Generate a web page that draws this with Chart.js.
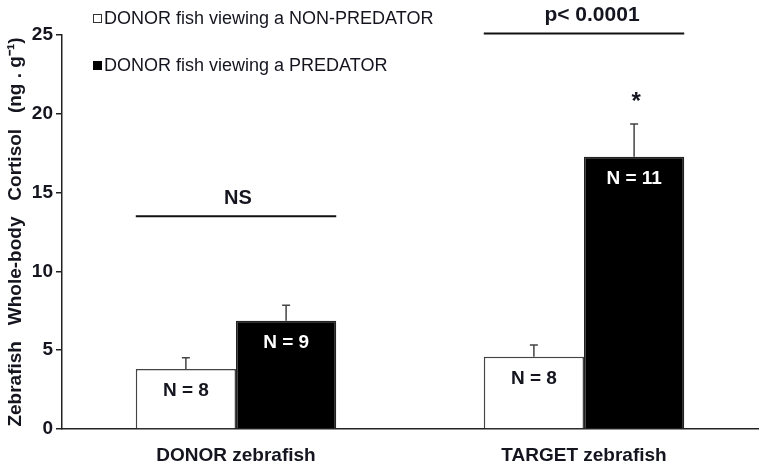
<!DOCTYPE html>
<html><head><meta charset="utf-8">
<script src="https://cdn.jsdelivr.net/npm/chart.js@4.4.1/dist/chart.umd.min.js"></script>
<style>html,body{margin:0;padding:0;background:#fff}#wrap{width:768px;height:467px}</style>
</head><body>
<div id="wrap"><canvas id="c" width="768" height="467"></canvas></div>
<script>
const categories = ['DONOR zebrafish', 'TARGET zebrafish'];
const seriesLabels = ['DONOR fish viewing a NON-PREDATOR', 'DONOR fish viewing a PREDATOR'];
const nonPredatorMeans = [3.8, 4.59];
const predatorMeans = [6.87, 17.28];
const nonPredatorErr = [0.72, 0.74];
const predatorErr = [0.98, 2.07];
const nonPredatorN = ['N = 8', 'N = 8'];
const predatorN = ['N = 9', 'N = 11'];
const yTicks = [0, 5, 10, 15, 20, 25];
const comparisonLabels = ['NS', 'p< 0.0001'];
const comparisonLevels = [13.5, 25.1];
const significanceMarks = ['', '*'];
const yTitle = 'Zebrafish   Whole-body   Cortisol   (ng . g\u207B\u00B9)';

const FONT = "'Liberation Sans', Arial, sans-serif";
const TXT = '#15151f';
const errors = [nonPredatorErr, predatorErr];
const nLabels = [nonPredatorN, predatorN];

const overlay = {
  id: 'overlay',
  afterDraw(chart) {
    const ctx = chart.ctx;
    const ys = chart.scales.y;
    const area = chart.chartArea;
    ctx.save();
    chart.data.datasets.forEach((ds, i) => {
      const meta = chart.getDatasetMeta(i);
      meta.data.forEach((el, j) => {
        const top = ys.getPixelForValue(ds.data[j] + errors[i][j]);
        ctx.strokeStyle = '#444';
        ctx.lineWidth = 1.5;
        ctx.beginPath();
        ctx.moveTo(el.x, el.y);
        ctx.lineTo(el.x, top);
        ctx.moveTo(el.x - 4, top);
        ctx.lineTo(el.x + 4, top);
        ctx.stroke();
        ctx.font = 'bold 19px ' + FONT;
        ctx.fillStyle = i === 1 ? '#ffffff' : TXT;
        ctx.textAlign = 'center';
        ctx.textBaseline = 'middle';
        ctx.fillText(nLabels[i][j], el.x, el.y + 22);
      });
    });
    const m0 = chart.getDatasetMeta(0), m1 = chart.getDatasetMeta(1);
    categories.forEach((c, j) => {
      const a = m0.data[j], b = m1.data[j];
      const left = a.x - a.width / 2, right = b.x + b.width / 2;
      const yl = ys.getPixelForValue(comparisonLevels[j]);
      ctx.strokeStyle = '#111';
      ctx.lineWidth = 2;
      ctx.beginPath();
      ctx.moveTo(left, yl);
      ctx.lineTo(right, yl);
      ctx.stroke();
      ctx.fillStyle = TXT;
      ctx.font = 'bold ' + (j === 1 ? 21 : 20) + 'px ' + FONT;
      ctx.textAlign = 'center';
      ctx.textBaseline = 'middle';
      ctx.fillText(comparisonLabels[j], (left + right) / 2 + (j === 1 ? 8 : 2), yl - 18);
      if (significanceMarks[j]) {
        const topErr = ys.getPixelForValue(predatorMeans[j] + predatorErr[j]);
        ctx.font = 'bold 24px ' + FONT;
        ctx.fillText(significanceMarks[j], b.x + 2, topErr - 22);
      }
    });
    const lx = area.left + 31;
    const rows = [18, 65];
    chart.data.datasets.forEach((ds, i) => {
      const cy = rows[i];
      ctx.lineWidth = 1;
      if (i === 0) {
        ctx.fillStyle = '#fff';
        ctx.strokeStyle = '#333';
        ctx.fillRect(lx, cy - 4, 8, 8);
        ctx.strokeRect(lx + 0.5, cy - 3.5, 8, 8);
      } else {
        ctx.fillStyle = '#000';
        ctx.fillRect(lx, cy - 4, 9, 9);
      }
      ctx.fillStyle = TXT;
      ctx.font = '18px ' + FONT;
      ctx.textAlign = 'left';
      ctx.textBaseline = 'middle';
      ctx.fillText(ds.label, lx + 11, cy + 1);
    });
    ctx.restore();
  }
};

new Chart(document.getElementById('c'), {
  type: 'bar',
  data: {
    labels: categories,
    datasets: [
      { label: seriesLabels[0], data: nonPredatorMeans, backgroundColor: '#ffffff', borderColor: '#444', borderWidth: 1.5 },
      { label: seriesLabels[1], data: predatorMeans, backgroundColor: '#000000', borderColor: '#222', borderWidth: 1.5 }
    ]
  },
  options: {
    responsive: false,
    animation: false,
    events: [],
    layout: { padding: { top: 35, right: 10, left: 0, bottom: 0 } },
    datasets: { bar: { categoryPercentage: 0.576, barPercentage: 1 } },
    plugins: { legend: { display: false }, tooltip: { enabled: false } },
    scales: {
      x: {
        grid: { display: false },
        border: { color: '#222', width: 1.5 },
        ticks: { color: TXT, font: { family: FONT, size: 19, weight: 'bold' }, padding: 7 },
        afterFit(s) { s.height = 38; }
      },
      y: {
        min: 0, max: 25,
        afterBuildTicks(s) { s.ticks = yTicks.map(v => ({ value: v })); },
        grid: { drawOnChartArea: false, drawTicks: true, tickLength: 6, color: '#222', lineWidth: 1.5 },
        border: { color: '#222', width: 1.5 },
        ticks: { color: TXT, font: { family: FONT, size: 19, weight: 'bold' }, padding: 3 },
        title: { display: true, text: yTitle, color: TXT, font: { family: FONT, size: 19, weight: 'bold' }, padding: { top: 4, bottom: 0 } },
        afterFit(s) { s.width = 62; }
      }
    }
  },
  plugins: [overlay]
});
</script>
</body></html>
